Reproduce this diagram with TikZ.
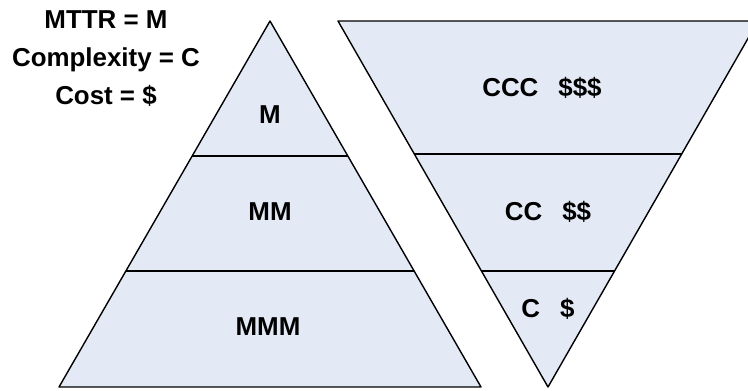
\documentclass[tikz,border=0pt]{standalone}
\usepackage{fontspec}
\setmainfont{Liberation Sans}
\usetikzlibrary{positioning, calc}
\definecolor{bandfill}{RGB}{227,234,246}

\begin{document}
\begin{tikzpicture}
	[x=1bp, y=-1bp, line join=round,
	 band/.style={draw=black, fill=bandfill, line width=1.4bp},
	 cut/.style={draw=black, line width=1.4bp},
	 lbl/.style={font=\fontsize{26}{30}\selectfont\bfseries, inner sep=0pt}]
   \useasboundingbox (0,0) rectangle (748,390);
   \clip (0,0) rectangle (748,390);
   % pyramid of repair time
   \coordinate (m_top) at (270,21);
   \coordinate (m_bl)  at (59,387);
   \coordinate (m_br)  at (481,387);
   \path[band] (m_top) -- (m_br) -- (m_bl) -- cycle;
   \draw[cut] ($(m_top)!0.369!(m_bl)$) -- ($(m_top)!0.369!(m_br)$);
   \draw[cut] ($(m_top)!0.683!(m_bl)$) -- ($(m_top)!0.683!(m_br)$);
   % funnel of complexity and cost
   \coordinate (c_tl)  at (338,21);
   \coordinate (c_tr)  at (758,21);
   \coordinate (c_bot) at (548,387);
   \path[band] (c_tl) -- (c_tr) -- (c_bot) -- cycle;
   \draw[cut] ($(c_tl)!0.363!(c_bot)$) -- ($(c_tr)!0.363!(c_bot)$);
   \draw[cut] ($(c_tl)!0.683!(c_bot)$) -- ($(c_tr)!0.683!(c_bot)$);
   % labels
   \node[lbl] (m_1) at (270,115) {M};
   \node[lbl] (m_2) at (270,212) {MM};
   \node[lbl] (m_3) at (268,327) {MMM};
   \node[lbl] (c_3) at (542,88)  {CCC\hspace{20bp}\$\$\$};
   \node[lbl] (c_2) at (548,212) {CC\hspace{20bp}\$\$};
   \node[lbl] (c_1) at (548,309) {C\hspace{20bp}\$};
   % legend
   \node[lbl, anchor=base] (mttr) at (106,28) {MTTR = M};
   \node[lbl, anchor=base] (cplx) [below=38bp of mttr.base, anchor=base] {Complexity = C};
   \node[lbl, anchor=base] (cost) [below=38bp of cplx.base, anchor=base] {Cost = \$};
\end{tikzpicture}
\end{document}
